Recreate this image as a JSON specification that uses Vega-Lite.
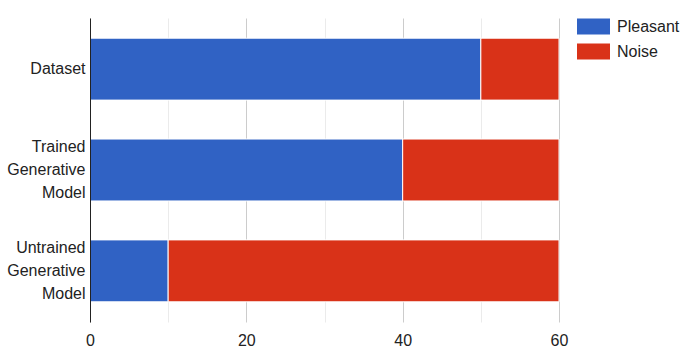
{
  "$schema": "https://vega.github.io/schema/vega-lite/v6.json",
  "width": 469,
  "height": 304,
  "autosize": {"type": "none"},
  "padding": {"left": 90, "top": 18, "right": 138, "bottom": 36},
  "background": "white",
  "config": {
    "font": "Liberation Sans",
    "view": {"stroke": null}
  },
  "data": {
    "values": [
      {"model": "Dataset", "kind": "Pleasant", "count": 50, "k": 0},
      {"model": "Dataset", "kind": "Noise", "count": 10, "k": 1},
      {"model": "Trained Generative Model", "kind": "Pleasant", "count": 40, "k": 0},
      {"model": "Trained Generative Model", "kind": "Noise", "count": 20, "k": 1},
      {"model": "Untrained Generative Model", "kind": "Pleasant", "count": 10, "k": 0},
      {"model": "Untrained Generative Model", "kind": "Noise", "count": 50, "k": 1}
    ]
  },
  "mark": {"type": "bar", "stroke": "white", "strokeWidth": 1},
  "encoding": {
    "y": {
      "field": "model",
      "type": "nominal",
      "sort": ["Dataset", "Trained Generative Model", "Untrained Generative Model"],
      "scale": {"paddingInner": 0.386, "paddingOuter": 0.2},
      "axis": {
        "title": null,
        "ticks": false,
        "domainColor": "#222222",
        "domainWidth": 1,
        "labelExpr": "split(datum.label, ' ')",
        "labelLineHeight": 23,
        "labelFontSize": 16,
        "labelColor": "#222222",
        "labelPadding": 5,
        "labelOffset": {"condition": {"test": "datum.value === 'Dataset'", "value": 0}, "value": -23},
        "zindex": 1
      }
    },
    "x": {
      "field": "count",
      "type": "quantitative",
      "stack": "zero",
      "scale": {"domain": [0, 60], "nice": false},
      "axis": {
        "title": null,
        "values": [0, 10, 20, 30, 40, 50, 60],
        "labelExpr": "datum.value % 20 === 0 ? datum.label : ''",
        "labelFlush": false,
        "domain": false,
        "ticks": false,
        "gridColor": {"condition": {"test": "datum.value % 20 === 0", "value": "#cccccc"}, "value": "#ebebeb"},
        "labelFontSize": 16,
        "labelColor": "#222222",
        "labelPadding": 10
      }
    },
    "color": {
      "field": "kind",
      "type": "nominal",
      "sort": ["Pleasant", "Noise"],
      "scale": {"domain": ["Pleasant", "Noise"], "range": ["#3062c4", "#d93218"]},
      "legend": {
        "title": null,
        "orient": "none",
        "legendX": 487,
        "legendY": -8,
        "symbolType": "M-1,-0.485H1V0.485H-1Z",
        "symbolSize": 1089,
        "symbolStrokeWidth": 0,
        "symbolOpacity": 1,
        "labelFontSize": 16,
        "labelColor": "#222222",
        "labelOffset": 7,
        "rowPadding": 0
      }
    },
    "order": {"field": "k", "type": "quantitative"}
  }
}
